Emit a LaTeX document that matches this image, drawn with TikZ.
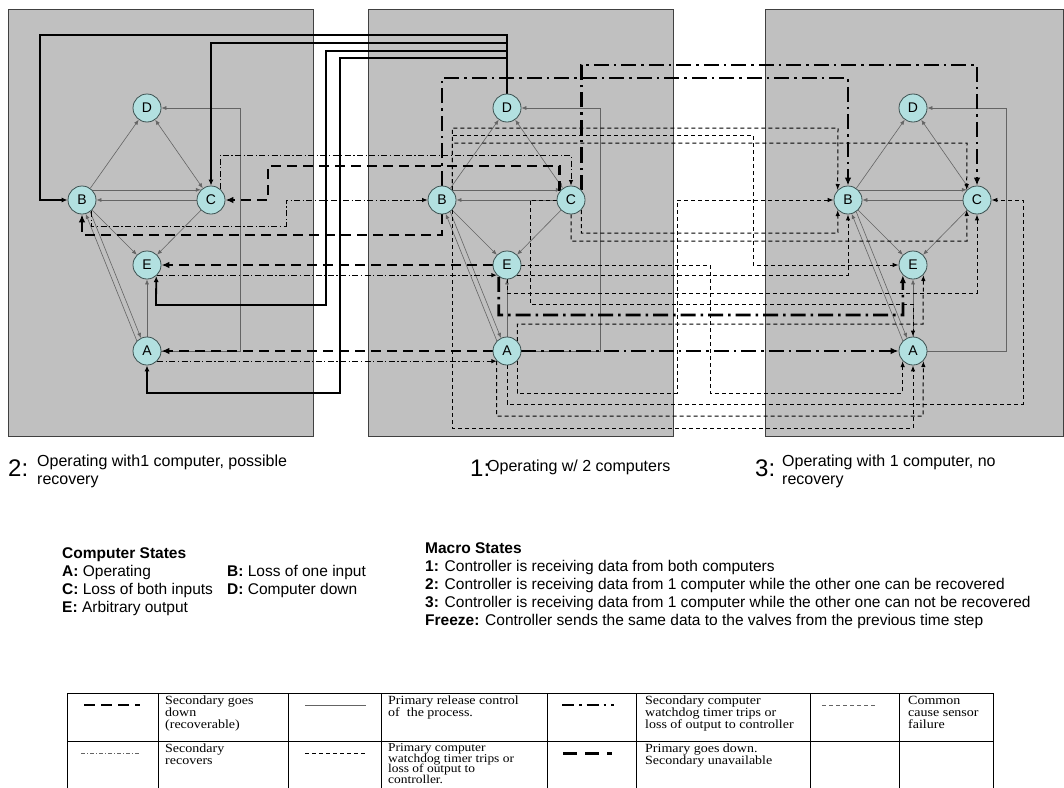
\documentclass[tikz,border=0pt]{standalone}
\usepackage{fontspec}
\setmainfont{Liberation Sans}
\newfontfamily\tabfont[FakeStretch=1.12]{Liberation Serif}
\newcommand\tablooseskip{\fontsize{12.5}{12}\selectfont\lineskiplimit -20pt\relax}
\newcommand\tabtightskip{\fontsize{12}{10.6}\selectfont\lineskiplimit -20pt\relax}
\usetikzlibrary{arrows.meta,calc}
\pgfdeclarelayer{panels}
\pgfdeclarelayer{edges}
\pgfsetlayers{panels,edges,main}
\definecolor{panelgray}{RGB}{192,192,192}
\definecolor{nodecyan}{RGB}{178,224,224}
\definecolor{nodeedge}{RGB}{60,80,80}
\definecolor{thingray}{RGB}{100,100,100}
\tikzset{
 st/.style={circle,draw=nodeedge,line width=0.8pt,fill=nodecyan,minimum size=28pt,inner sep=0pt,font=\fontsize{14}{14}\selectfont},
 panel/.style={fill=panelgray,draw=black!75,line width=0.8pt},
 gl/.style={draw=thingray,line width=0.6pt,-{Latex[length=5pt,width=4pt]}},
 gltwo/.style={draw=thingray,line width=0.6pt,{Latex[length=5pt,width=4pt]}-{Latex[length=5pt,width=4pt]}},
 thicksolid/.style={draw=black,line width=1.8pt,-{Latex[length=6pt,width=5pt]}},
 secdown/.style={draw=black,line width=2.6pt,dash pattern=on 10pt off 6pt,-{Latex[length=8pt,width=6.5pt]}},
 secrec/.style={draw=black,line width=0.9pt,dash pattern=on 6pt off 2.5pt on 1.2pt off 2.5pt,-{Latex[length=5.5pt,width=4.5pt]}},
 wdog/.style={draw=black,line width=2.6pt,dash pattern=on 15pt off 5pt on 2.5pt off 5pt,-{Latex[length=8pt,width=6.5pt]}},
 ccf/.style={draw=black,line width=1pt,dash pattern=on 4pt off 3pt,-{Latex[length=6pt,width=4.5pt]}},
 txt/.style={anchor=base west,inner sep=0pt,font=\fontsize{15.5}{18}\selectfont},
 captxt/.style={anchor=base west,inner sep=0pt,font=\fontsize{16}{18}\selectfont},
 capnum/.style={anchor=base west,inner sep=0pt,font=\fontsize{24}{24}\selectfont},
 tabtxt/.style={anchor=north west,inner sep=0pt,align=left,font=\tabfont\tablooseskip},
 tabtxttight/.style={anchor=north west,inner sep=0pt,align=left,font=\tabfont\tabtightskip},
}
\begin{document}
\begin{tikzpicture}[x=1pt,y=-1pt]
\useasboundingbox (0,0) rectangle (1064,787);
\begin{pgfonlayer}{panels}
\draw[panel] (8,9) rectangle (313,436);
\draw[panel] (368,9) rectangle (673,436);
\draw[panel] (765,9) rectangle (1063.6,436);
\end{pgfonlayer}
% state nodes
\foreach \pn/\bx in {L/82,M/442,R/848}{
 \node[st] (\pn D) at (\bx+65,108) {D};
 \node[st] (\pn B) at (\bx,200) {B};
 \node[st] (\pn C) at (\bx+129,200) {C};
 \node[st] (\pn E) at (\bx+65,265) {E};
 \node[st] (\pn A) at (\bx+65,351) {A};
}
\begin{pgfonlayer}{edges}
\foreach \pn/\bx in {L/82,M/442,R/848}{
 \draw[gl] (\pn B) -- (\pn D);
 \draw[gltwo] (\pn D) -- (\pn C);
 \draw[gl] (\pn B.45) -- (\pn C.135);
 \draw[gl] (\pn C) -- (\pn B);
 \draw[gl] (\pn B) -- (\pn E);
 \draw[gl] (\pn C) -- (\pn E);
 \draw[gl] (\pn B.-55) -- (\pn A.115);
 \draw[gl] (\pn A.135) -- (\pn B.-75);
 \draw[gl] (\pn A) -- (\pn E);
 \draw[gl] (\pn A.east) -- (\bx+158,351) -- (\bx+158,108) -- (\pn D.east);
}
% thick solid
\draw[thicksolid] (MD.north) |- (40,35) |- (LB.west);
\draw[thicksolid] (MD.north) |- (211,43) -- (LC.north);
\draw[thicksolid] (MD.north) |- (326,51) |- (156,305) -- (LE.-50);
\draw[thicksolid] (MD.north) |- (340,58) |- (147,393) -- (LA.south);
% secondary goes down (recoverable)
\draw[secdown] (MC.142) |- (268,166) |- (LC.east);
\draw[secdown] (MB.south) |- (82,235) -- (LB.south);
\draw[secdown] (ME.west) -- (LE.east);
\draw[secdown] (MA.west) -- (LA.east);
% secondary recovers
\draw[secrec] (LC.50) |- (571,155) -- (MC.north);
\draw[secrec] (LB.-50) |- (286,226) |- (MB.west);
\draw[secrec] (LE.-45) -- (ME.-135);
\draw[secrec] (LA.-45) -- (MA.-135);
% thick dash-dot
\draw[wdog] (MB.north) |- (848,78) -- (RB.north);
\draw[wdog] (MC.44) |- (977,65) -- (RC.north);
\draw[wdog] (ME.-125) |- (903,315) -- (RE.-135);
\draw[wdog] (MA.east) -- (RA.west);
% common cause sensor failure
\draw[ccf] (MB.44) |- (838,128) -- (RB.136);
\draw[ccf] (MB.44) |- (753,135) |- (RE.west);
\draw[ccf] (MB.44) |- (967,143) -- (RC.136);
\draw[ccf] (MB.-44) |- (913,428) -- (RA.south);
\draw[ccf] (MC.-44) |- (838,233) -- (RB.-136);
\draw[ccf] (MC.south) |- (967,241) -- (RC.-136);
\draw[ccf] (MC.west) -| (530,304) -| (RA.north);
\draw[ccf] (ME.east) -| (710,393) -| (RA.-136);
\draw[ccf] (ME.-45) -| (RB.south);
\draw[ccf] (ME.south) |- (977,293) -- (RC.south);
\draw[ccf] (MA.44) |- (923,324) -- (RE.-44);
\draw[ccf] (MA.-44) |- (677,393) |- (RB.west);
\draw[ccf] (MA.south) |- (1023,404) |- (RC.east);
\draw[ccf] (MA.-136) |- (923,416) -- (RA.-44);
\end{pgfonlayer}
% captions
\node[capnum] (c2n) at (8,476) {2:};
\node[captxt] (c2a) at (37,466) {Operating with1 computer, possible};
\node[captxt] (c2b) at (37,484) {recovery};
\node[capnum] (c1n) at (470,476) {1:};
\node[captxt] (c1a) at (487,471) {Operating w/ 2 computers};
\node[capnum] (c3n) at (755,476) {3:};
\node[captxt] (c3a) at (782,466) {Operating with 1 computer, no};
\node[captxt] (c3b) at (782,484) {recovery};
% computer states
\node[txt] (cs0) at (62,558) {\bfseries Computer States};
\node[txt] (csA) at (62,576) {{\bfseries A:} Operating};
\node[txt] (csB) at (227,576) {{\bfseries B:} Loss of one input};
\node[txt] (csC) at (62,594) {{\bfseries C:} Loss of both inputs};
\node[txt] (csD) at (227,594) {{\bfseries D:} Computer down};
\node[txt] (csE) at (62,612) {{\bfseries E:} Arbitrary output};
% macro states
\node[txt] (ms0) at (425,553) {\bfseries Macro States};
\node[txt] (ms1) at (425,571) {{\bfseries 1:} Controller is receiving data from both computers};
\node[txt] (ms2) at (425,589) {{\bfseries 2:} Controller is receiving data from 1 computer while the other one can be recovered};
\node[txt] (ms3) at (425,607) {{\bfseries 3:} Controller is receiving data from 1 computer while the other one can not be recovered};
\node[txt] (ms4) at (425,625) {{\bfseries Freeze:} Controller sends the same data to the valves from the previous time step};
% legend table
\begin{scope}
\clip (0,0) rectangle (1064,787);
\draw[line width=0.7pt] (67,693) -- (993,693);
\draw[line width=0.7pt] (67,741) -- (993,741);
\foreach \xx in {67,158,288,381,547,636,810,899,993}{
 \draw[line width=0.7pt] (\xx,693) -- (\xx,792);
}
\draw[secdown,-,dash pattern=on 11pt off 6pt] (84,705) -- (140,705);
\draw[draw=thingray,line width=0.8pt] (305,705) -- (366,705);
\draw[wdog,-,dash pattern=on 12pt off 5pt on 2.5pt off 5pt] (562,705) -- (614,705);
\draw[ccf,-,draw=thingray,line width=0.8pt] (822,705) -- (877,705);
\draw[secrec,-,draw=thingray,line width=0.7pt,dash pattern=on 4pt off 2pt on 1pt off 2pt] (81,753) -- (140,753);
\draw[ccf,-,line width=0.8pt] (305,753) -- (366,753);
\draw[wdog,-,line width=3pt,dash pattern=on 14pt off 8pt] (563,753) -- (612,753);
\node[tabtxt] (t1) at (165,696) {Secondary goes\\down\\(recoverable)};
\node[tabtxt] (t2) at (388,696) {Primary release control\\of\ \ the process.};
\node[tabtxt] (t3) at (645,696) {Secondary computer\\watchdog timer trips or\\loss of output to controller};
\node[tabtxt] (t4) at (908,696) {Common\\cause sensor\\failure};
\node[tabtxt] (t5) at (165,744) {Secondary\\recovers};
\node[tabtxttight] (t6) at (388,743.5) {Primary computer\\watchdog timer trips or\\loss of output to\\controller.};
\node[tabtxt] (t7) at (645,744) {Primary goes down.\\Secondary unavailable};
\end{scope}
\end{tikzpicture}
\end{document}
